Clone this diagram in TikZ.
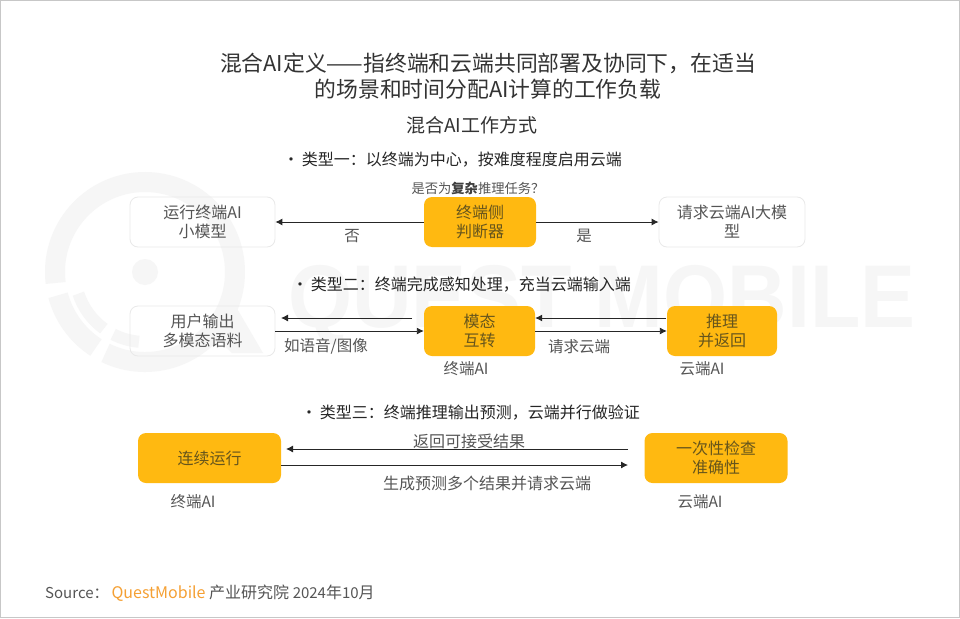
\documentclass[tikz,border=0pt]{standalone}
\usepackage{fontspec}
\setmainfont{Noto Sans CJK SC}
\newfontfamily\markfont{Liberation Sans}
\usetikzlibrary{arrows.meta}
\definecolor{yellowbox}{HTML}{FFB911}
\definecolor{boxline}{HTML}{E9E9E9}
\definecolor{marktone}{HTML}{F6F6F6}
\definecolor{bodytone}{HTML}{555555}
\definecolor{yellowtext}{HTML}{66551C}
\definecolor{sourcetone}{HTML}{F5A033}
\newcommand{\fs}[1]{\fontsize{#1}{#1}\selectfont}
\tikzset{
	whitebox/.style={draw=boxline, line width=0.8pt, rounded corners=8pt, inner sep=0pt},
	yellowfill/.style={fill=yellowbox, rounded corners=8pt, inner sep=0pt},
	boxtext/.style={align=center, font=\fontsize{16}{19}\selectfont},
	flowarrow/.style={-{Latex[length=7pt,width=7pt]}, line width=0.9pt, draw=black!85},
	lab/.style={text=bodytone, inner sep=0pt, font=\fs{15.5}},
	head/.style={text=black!85, inner sep=0pt, font=\fs{16}},
	ring/.style={draw=marktone, line width=20pt},
	innerring/.style={draw=marktone, line width=12pt}
}
\begin{document}
\begin{tikzpicture}[x=1pt, y=-1pt]
	\useasboundingbox (0,0) rectangle (960,618);
	\fill[white] (0,0) rectangle (960,618);
	\draw[black!22, line width=1pt] (0.5,0.5) rectangle (959.5,617.5);
	%%% Watermark
	\draw[ring] (145,272) ++(116:90) arc (116:-40:90);
	\draw[ring] (145,272) ++(123:90) arc (123:165:90);
	\draw[ring] (145,272) ++(173:90) arc (173:320:90);
	\draw[innerring] (145,272) ++(126:70) arc (126:162:70);
	\draw[innerring] (145,272) ++(117:70) arc (117:95:70);
	\fill[marktone] (145,272) circle (13);
	\fill[marktone] (232,300) -- (263,353) -- (232,353) -- (214,335) -- cycle;
	\node[text=marktone, anchor=west, inner sep=0pt] (markword) at (288,305)
		{\markfont\bfseries\fontsize{89}{89}\selectfont\scalebox{0.926}[1]{QUEST MOBILE}};
	%%% Titles
	\node[align=center, text=black!80, font=\fontsize{21.8}{26}\selectfont] (title) at (488,76)
		{混合AI定义——指终端和云端共同部署及协同下，在适当\\的场景和时间分配AI计算的工作负载};
	\node[text=black!80, font=\fs{19}] (subtitle) at (472,125) {混合AI工作方式};
	%%% Type one
	\node[head] (headone) at (452.5,160) {\makebox[19pt][l]{•}类型一：以终端为中心，按难度程度启用云端};
	\node[lab, font=\fs{13.3}] (question) at (478,188) {是否为{\bfseries\color{black!75}复杂}推理任务？};
	\node[whitebox, boxtext, text=bodytone, minimum width=145pt, minimum height=50pt] (small) at (202.5,222) {运行终端AI\\小模型};
	\node[yellowfill, boxtext, text=yellowtext, minimum width=112pt, minimum height=50pt] (judge) at (480,222) {终端侧\\判断器};
	\node[whitebox, boxtext, text=bodytone, minimum width=146pt, minimum height=50pt] (large) at (732,222) {请求云端AI大模\\型};
	\draw[flowarrow] (judge) -- (small);
	\draw[flowarrow] (judge) -- (large);
	\node[lab] (no) at (352,236) {否};
	\node[lab] (yes) at (584,236) {是};
	%%% Type two
	\node[head] (headtwo) at (461.5,285) {\makebox[19pt][l]{•}类型二：终端完成感知处理，充当云端输入端};
	\node[whitebox, boxtext, text=bodytone, minimum width=145pt, minimum height=50pt] (user) at (202.5,331) {用户输出\\多模态语料};
	\node[yellowfill, boxtext, text=yellowtext, minimum width=111pt, minimum height=50pt] (convert) at (479.5,331) {模态\\互转};
	\node[yellowfill, boxtext, text=yellowtext, minimum width=110pt, minimum height=50pt] (infer) at (722,331) {推理\\并返回};
	\coordinate (backuserstart) at (412,318);
	\coordinate (backuserend) at (281,318);
	\coordinate (backconvert) at (666,318);
	\draw[flowarrow] (backuserstart) -- (backuserend);
	\draw[flowarrow] (backconvert) -- (backconvert -| convert.east);
	\draw[flowarrow] (user) -- (convert);
	\draw[flowarrow] (convert) -- (infer);
	\node[lab] (speech) at (326,346) {如语音/图像};
	\node[lab] (askcloud) at (579,347) {请求云端};
	\node[lab] (edgetwo) at (466,369) {终端AI};
	\node[lab] (cloudtwo) at (702,369) {云端AI};
	%%% Type three
	\node[head] (headthree) at (470.5,413) {\makebox[19pt][l]{•}类型三：终端推理输出预测，云端并行做验证};
	\node[yellowfill, boxtext, text=yellowtext, minimum width=143pt, minimum height=50pt] (run) at (209.5,458) {连续运行};
	\node[yellowfill, boxtext, text=yellowtext, minimum width=143pt, minimum height=50pt] (check) at (716,458) {一次性检查\\准确性};
	\coordinate (backstart) at (628,449);
	\coordinate (backend) at (286,449);
	\coordinate (sendend) at (628,465);
	\draw[flowarrow] (backstart) -- (backend);
	\draw[flowarrow] (run.east |- sendend) -- (sendend);
	\node[lab, font=\fs{16}] (accept) at (469,441) {返回可接受结果};
	\node[lab, font=\fs{16}] (predict) at (487,483) {生成预测多个结果并请求云端};
	\node[lab] (edgethree) at (193,502) {终端AI};
	\node[lab] (cloudthree) at (700,502) {云端AI};
	%%% Source
	\node[lab, anchor=west, font=\fs{16}] (source) at (45,593)
		{{\fs{15}Source：}\hspace{3pt}\textcolor{sourcetone}{QuestMobile} 产业研究院 {\fs{15}2024}年{\fs{15}10}月};
\end{tikzpicture}
\end{document}
